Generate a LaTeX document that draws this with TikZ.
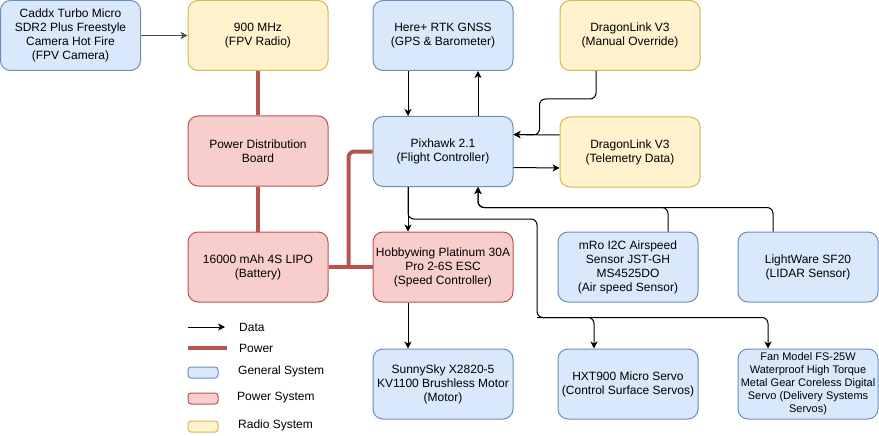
\documentclass[tikz,border=0pt]{standalone}
\usepackage{fontspec}
\setmainfont{Liberation Sans}
\usetikzlibrary{positioning, arrows.meta, calc}

\definecolor{genfill}{HTML}{DAE8FC}
\definecolor{gendraw}{HTML}{6C8EBF}
\definecolor{pwrfill}{HTML}{F8CECC}
\definecolor{pwrdraw}{HTML}{B85450}
\definecolor{radfill}{HTML}{FFF2CC}
\definecolor{raddraw}{HTML}{D6B656}

\begin{document}
\begin{tikzpicture}[
    x=1pt, y=-1pt,
    box/.style={
        rectangle,
        line width=1pt,
        minimum width=140pt,
        minimum height=70pt,
        rounded corners=10pt,
        align=center,
        inner sep=1pt,
        font=\fontsize{12}{14}\selectfont
    },
    general/.style={box, fill=genfill, draw=gendraw},
    powerbox/.style={box, fill=pwrfill, draw=pwrdraw},
    radio/.style={box, fill=radfill, draw=raddraw},
    swatch/.style={rectangle, line width=1pt, minimum width=30pt, minimum height=11pt,
        rounded corners=3pt, inner sep=0pt},
    data/.style={-{Stealth[length=7pt, width=7pt, inset=2pt]}, line width=1pt},
    power/.style={line width=4pt, draw=pwrdraw},
    legend/.style={anchor=west, inner sep=0pt, font=\fontsize{12}{14}\selectfont}
]
\useasboundingbox (0,0) rectangle (879,436);

% === Top row ===
\node[general] (camera) at (70.5,35.5) {Caddx Turbo Micro\\SDR2 Plus Freestyle\\Camera Hot Fire\\(FPV Camera)};
\node[radio] (fpv) at (258,35.5) {900 MHz\\(FPV Radio)};
\node[general] (gnss) at (443,35.5) {Here+ RTK GNSS\\(GPS \& Barometer)};
\node[radio] (manual) at (630,35.5) {DragonLink V3\\(Manual Override)};

% === Middle row ===
\node[powerbox] (pdb) at (258,151) {Power Distribution\\Board};
\node[general] (fc) at (443,151.5) {Pixhawk 2.1\\(Flight Controller)};
\node[radio] (telem) at (630,152) {DragonLink V3\\(Telemetry Data)};

% === Sensor row ===
\node[powerbox] (battery) at (258,267) {16000 mAh 4S LIPO\\(Battery)};
\node[powerbox] (esc) at (443,267) {Hobbywing Platinum 30A\\Pro 2-6S ESC\\(Speed Controller)};
\node[general] (airspeed) at (628,267) {mRo I2C Airspeed\\Sensor JST-GH\\MS4525DO\\(Air speed Sensor)};
\node[general] (lidar) at (808,267) {LightWare SF20\\(LIDAR Sensor)};

% === Actuator row ===
\node[general] (motor) at (443,384) {SunnySky X2820-5\\KV1100 Brushless Motor\\(Motor)};
\node[general] (servo) at (628,384) {HXT900 Micro Servo\\(Control Surface Servos)};
\node[general, font=\fontsize{11}{13}\selectfont] (fan) at (808,384) {Fan Model FS-25W\\Waterproof High Torque\\Metal Gear Coreless Digital\\Servo (Delivery Systems\\Servos)};

% Power lines
\draw[power] (fpv.south) -- (pdb.north);
\draw[power] (pdb.south) -- (battery.north);
\draw[power] (battery.east) -- (esc.west);
\draw[power, rounded corners=6pt] ([xshift=20pt]battery.east) |- (fc.west);

% Data lines
\draw[data, black!70] (camera.east) -- (fpv.west);
\draw[data] ([xshift=-35pt]gnss.south) -- ([xshift=-35pt]fc.north);
\draw[data] ([xshift=35pt]fc.north) -- ([xshift=35pt]gnss.south);
\draw[data, rounded corners=6pt] ([xshift=-34pt]manual.south) -- ++(0,28)
    -| ([xshift=-20pt, yshift=17pt]telem.west) -- ([yshift=17pt]fc.east);
\draw[data] ([yshift=17pt]telem.west) -- ([yshift=17pt]fc.east);
\draw[data] ([yshift=-16pt]fc.east) -- ([yshift=-16pt]telem.west);
\draw[data] ([xshift=-35pt]fc.south) -- ([xshift=-35pt]esc.north);
\draw[data] (esc.south) ++(-35pt,0) coordinate (escout) (escout) -- (escout |- motor.north);

% Servo bus
\coordinate (split) at ([xshift=-91pt, yshift=31pt]servo.north);
\draw[data, rounded corners=6pt] ([xshift=-35pt]fc.south) -- ++(0,32) -| (split)
    -| ([xshift=-34pt]servo.north);
\draw[data, rounded corners=6pt] (split) -| ([xshift=-40pt]fan.north);

% Sensor bus
\draw[data, rounded corners=6pt] ([xshift=40pt]airspeed.north) -- ++(0,-24)
    -| ([xshift=35pt]fc.south);
\draw[data, rounded corners=6pt] ([xshift=-35pt]lidar.north) -- ++(0,-24)
    -| ([xshift=35pt]fc.south);

% === Legend ===
\coordinate (dataA) at (188,327);
\coordinate (dataB) at (225,327);
\draw[data] (dataA) -- (dataB);
\node[legend] (ldata) at (239,327) {Data};
\coordinate (pwrA) at (188,348);
\coordinate (pwrB) at (227,348);
\draw[power] (pwrA) -- (pwrB);
\node[legend] (lpwr) at (239,348) {Power};
\node[swatch, fill=genfill, draw=gendraw] (sgen) at (203,372.5) {};
\node[legend] (lgen) at (238,371) {General System};
\node[swatch, fill=pwrfill, draw=pwrdraw] (spwr) at (203,398.5) {};
\node[legend] (lpsys) at (237,398) {Power System};
\node[swatch, fill=radfill, draw=raddraw] (srad) at (203,426.5) {};
\node[legend] (lrad) at (238,425) {Radio System};

\end{tikzpicture}
\end{document}
